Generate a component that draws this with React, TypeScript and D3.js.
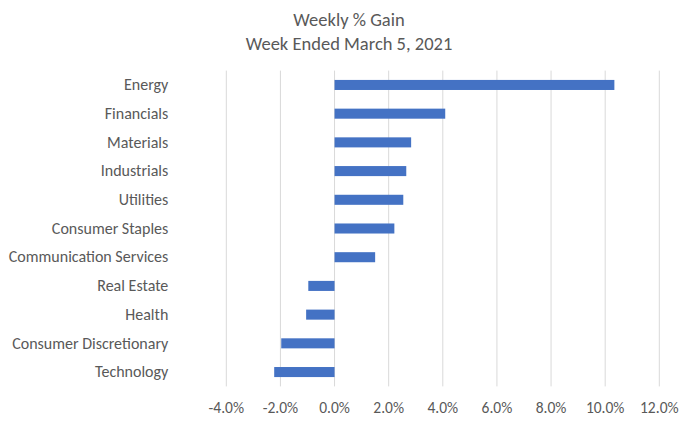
import * as d3 from 'd3';
import React from 'react';

// sector names, top to bottom
const sectors = [
  'Energy',
  'Financials',
  'Materials',
  'Industrials',
  'Utilities',
  'Consumer Staples',
  'Communication Services',
  'Real Estate',
  'Health',
  'Consumer Discretionary',
  'Technology',
];

// weekly % gain for each sector
const gains = [10.34, 4.09, 2.83, 2.65, 2.54, 2.21, 1.5, -0.97, -1.05, -1.97, -2.23];

const xTicks = [-4, -2, 0, 2, 4, 6, 8, 10, 12];

const titleLines = ['Weekly % Gain', 'Week Ended March 5, 2021'];

const FONT = 'Calibri, Carlito, Lato, "Open Sans", sans-serif';
const TEXT = '#595959';

const App: React.FC = () => {
  const W = 692;
  const H = 422;
  const margin = { top: 70.6, right: 32.7, bottom: 35.6, left: 226.3 };
  const innerW = W - margin.left - margin.right;
  const innerH = H - margin.top - margin.bottom;

  const x = d3.scaleLinear().domain([-4, 12]).range([0, innerW]);
  const y = d3.scaleBand().domain(sectors).range([0, innerH]).paddingInner(0.65).paddingOuter(0.325);

  return (
    <svg width={W} height={H} style={{ position: 'absolute', left: 0, top: 0, background: '#fff' }}>
      {titleLines.map((t, i) => (
        <text key={t} x={349} y={26 + i * 24} textAnchor="middle" fontFamily={FONT} fontSize={18.5} fill={TEXT}>
          {t}
        </text>
      ))}
      <g transform={`translate(${margin.left}, ${margin.top})`}>
        {xTicks.map(t => (
          <g key={t}>
            <line x1={x(t)} x2={x(t)} y1={0} y2={innerH} stroke="#d9d9d9" strokeWidth={1} />
            <text x={x(t)} y={innerH + 27} textAnchor="middle" fontFamily={FONT} fontSize={15.5} fill={TEXT}>
              {`${t.toFixed(1)}%`}
            </text>
          </g>
        ))}
        {sectors.map((s, i) => {
          const v = gains[i];
          const x0 = x(Math.min(0, v));
          const x1 = x(Math.max(0, v));
          return (
            <rect key={s} x={x0} y={y(s)} width={x1 - x0} height={y.bandwidth()} fill="#4472c4" />
          );
        })}
        {sectors.map(s => (
          <text
            key={s}
            x={-58}
            y={(y(s) ?? 0) + y.bandwidth() / 2}
            dy="0.33em"
            textAnchor="end"
            fontFamily={FONT}
            fontSize={16}
            fill={TEXT}
          >
            {s}
          </text>
        ))}
      </g>
    </svg>
  );
};

export default App;
